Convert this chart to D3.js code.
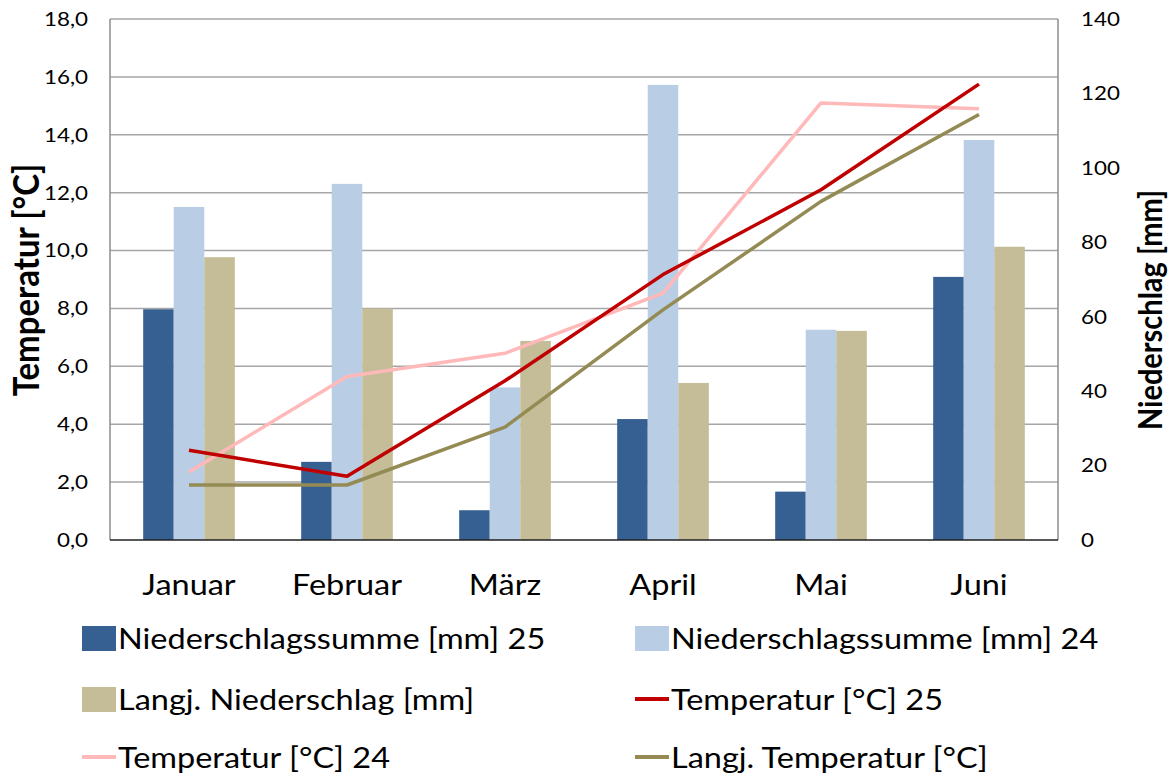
<!DOCTYPE html>
<html><head><meta charset="utf-8">
<script src="https://cdn.jsdelivr.net/npm/d3@7"></script>
<style>body{margin:0;background:#fff}svg{display:block}text{font-family:Lato,"Open Sans",sans-serif;fill:#000}</style>
</head><body><svg id="c" width="1168" height="776"></svg>
<script>
const months = ["Januar","Februar","März","April","Mai","Juni"];
const precip25 = [62, 21, 8, 32.5, 13, 70.7];
const precip24 = [89.5, 95.7, 41, 122.3, 56.5, 107.5];
const precipLong = [76, 62.2, 53.5, 42.2, 56.2, 78.8];
const temp25 = [3.1, 2.2, 5.5, 9.17, 12.1, 15.75];
const temp24 = [2.35, 5.65, 6.45, 8.53, 15.1, 14.9];
const tempLong = [1.9, 1.9, 3.9, 7.95, 11.7, 14.7];
const tempTicks = [0,2,4,6,8,10,12,14,16,18];
const precipTicks = [0,20,40,60,80,100,120,140];
const barSeries = [
  {name:"Niederschlagssumme [mm] 25", values:precip25, color:"#376092"},
  {name:"Niederschlagssumme [mm] 24", values:precip24, color:"#b9cde5"},
  {name:"Langj. Niederschlag [mm]", values:precipLong, color:"#c4bd97"}
];
const lineSeries = [
  {name:"Temperatur [°C] 25", values:temp25, color:"#c00000"},
  {name:"Temperatur [°C] 24", values:temp24, color:"#ffb9b9"},
  {name:"Langj. Temperatur [°C]", values:tempLong, color:"#948a54"}
];

const SX = 1.12; // horizontal stretch of the text glyphs
const svg = d3.select("#c");
const L=110, R=1058, T=19, B=540;
const x = d3.scaleBand().domain(months).range([L,R]).paddingInner(0.42).paddingOuter(0.21);
const xs = d3.scaleBand().domain(barSeries.map(d=>d.name)).range([0,x.bandwidth()]);
const yT = d3.scaleLinear().domain([0,18]).range([B,T]);
const yP = d3.scaleLinear().domain([0,140]).range([B,T]);

// gridlines
svg.append("g").selectAll("line").data(tempTicks.slice(1)).join("line")
  .attr("x1",L).attr("x2",R).attr("y1",d=>yT(d)).attr("y2",d=>yT(d))
  .attr("stroke","#a6a6a6").attr("stroke-width",1.5);
// frame
svg.append("line").attr("x1",L).attr("x2",L).attr("y1",T).attr("y2",B).attr("stroke","#8c8c8c").attr("stroke-width",1.5);
svg.append("line").attr("x1",R).attr("x2",R).attr("y1",T).attr("y2",B).attr("stroke","#8c8c8c").attr("stroke-width",1.5);

// bars
const g = svg.append("g");
barSeries.forEach(s=>{
  g.append("g").selectAll("rect").data(s.values).join("rect")
    .attr("x",(d,i)=>x(months[i])+xs(s.name))
    .attr("width",xs.bandwidth())
    .attr("y",d=>yP(d)).attr("height",d=>B-yP(d))
    .attr("fill",s.color);
});
// bottom axis line
svg.append("line").attr("x1",L).attr("x2",R).attr("y1",B).attr("y2",B).attr("stroke","#202020").attr("stroke-width",1.5);

// lines
const line = d3.line().x((d,i)=>x(months[i])+x.bandwidth()/2).y(d=>yT(d));
[lineSeries[1], lineSeries[2], lineSeries[0]].forEach(s=>{
  svg.append("path").datum(s.values).attr("d",line).attr("fill","none")
    .attr("stroke",s.color).attr("stroke-width",3.5).attr("stroke-linejoin","round");
});

// axes
const fmt = d=>d3.format(".1f")(d).replace(".",",");
const axL = svg.append("g").attr("transform",`translate(${L},0)`)
  .call(d3.axisLeft(yT).tickValues(tempTicks).tickFormat(fmt).tickSize(0).tickPadding(22));
const axR = svg.append("g").attr("transform",`translate(${R},0)`)
  .call(d3.axisRight(yP).tickValues(precipTicks).tickSize(0).tickPadding(23));
const axB = svg.append("g").attr("transform",`translate(0,${B})`)
  .call(d3.axisBottom(x).tickSize(0).tickPadding(34));
[axL,axR,axB].forEach(a=>{a.select(".domain").remove();a.selectAll("text").style("font-family","Lato").attr("fill","#000");});
axL.selectAll("text").style("font-size","20px").attr("x",-22/SX).attr("transform",`scale(${SX},1)`);
axR.selectAll("text").style("font-size","20px").attr("x",23/SX).attr("transform",`scale(${SX},1)`);
axB.selectAll("text").style("font-size","29px").attr("transform",`scale(${SX},1)`);

// axis titles
svg.append("text").attr("transform",`translate(39,280) rotate(-90) scale(1,${SX})`)
  .attr("text-anchor","middle").style("font-size","33px").style("font-weight","bold").text("Temperatur [°C]");
svg.append("text").attr("transform",`translate(1162,310) rotate(-90) scale(1,${SX})`)
  .attr("text-anchor","middle").style("font-size","29px").style("font-weight","bold").text("Niederschlag [mm]");

// legend
const legendItems = [
  {s:barSeries[0], type:"bar", col:0, row:0},
  {s:barSeries[1], type:"bar", col:1, row:0},
  {s:barSeries[2], type:"bar", col:0, row:1},
  {s:lineSeries[0], type:"line", col:1, row:1},
  {s:lineSeries[1], type:"line", col:0, row:2},
  {s:lineSeries[2], type:"line", col:1, row:2}
];
const colX=[82,635], rowY=[638,699,757];
legendItems.forEach(it=>{
  const gx=colX[it.col], gy=rowY[it.row];
  if(it.type==="bar") svg.append("rect").attr("x",gx).attr("y",gy-12).attr("width",34).attr("height",25).attr("fill",it.s.color);
  else svg.append("line").attr("x1",gx).attr("x2",gx+34).attr("y1",gy).attr("y2",gy).attr("stroke",it.s.color).attr("stroke-width",4);
  svg.append("text").attr("transform",`translate(${gx+36},${gy}) scale(${SX},1)`).attr("dominant-baseline","central")
    .style("font-size","29px").text(it.s.name);
});
</script></body></html>
